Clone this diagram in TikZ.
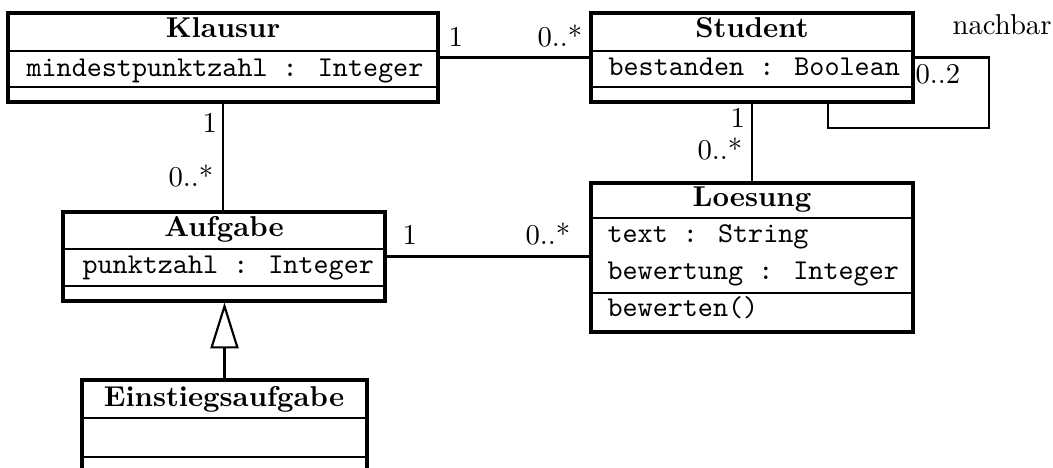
\documentclass[tikz,border=0pt]{standalone}
\usetikzlibrary{arrows.meta,fit}
\begin{document}
\begin{tikzpicture}[x=0.3484pt,y=-0.3484pt,
  classbox/.style={draw, line width=1.1pt, inner sep=0pt},
  sepline/.style={line width=0.85pt},
  assoc/.style={line width=0.75pt},
  mult/.style={inner sep=0pt, anchor=base west},
  cname/.style={inner sep=0pt, anchor=base, font=\bfseries},
  attr/.style={inner sep=0pt, anchor=base west, font=\ttfamily},
]
\useasboundingbox (0,0) rectangle (1053,468);
\clip (0,0) rectangle (1053,468);

% class Klausur
\coordinate (k1) at (8,13); \coordinate (k2) at (438,102);
\node[classbox, fit=(k1)(k2)] (klausur) {};
\draw[sepline] (8,51) -- (438,51) (8,87) -- (438,87);
\node[cname] (klausur-name) at (223,38) {Klausur};
\node[attr] (klausur-a1) at (26,77) {mindestpunktzahl : Integer};

% class Student
\coordinate (s1) at (591,13); \coordinate (s2) at (913,102);
\node[classbox, fit=(s1)(s2)] (student) {};
\draw[sepline] (591,51) -- (913,51) (591,87) -- (913,87);
\node[cname] (student-name) at (752,38) {Student};
\node[attr] (student-a1) at (608,76) {bestanden : Boolean};

% class Loesung
\coordinate (l1) at (591,183); \coordinate (l2) at (913,332);
\node[classbox, fit=(l1)(l2)] (loesung) {};
\draw[sepline] (591,218) -- (913,218) (591,293) -- (913,293);
\node[cname] (loesung-name) at (752,207) {Loesung};
\node[attr] (loesung-a1) at (607,243) {text : String};
\node[attr] (loesung-a2) at (607,280) {bewertung : Integer};
\node[attr] (loesung-o1) at (607,317) {bewerten()};

% class Aufgabe
\coordinate (a1) at (63,212); \coordinate (a2) at (385,301);
\node[classbox, fit=(a1)(a2)] (aufgabe) {};
\draw[sepline] (63,249) -- (385,249) (63,286) -- (385,286);
\node[cname] (aufgabe-name) at (224,237) {Aufgabe};
\node[attr] (aufgabe-a1) at (82,274) {punktzahl : Integer};

% class Einstiegsaufgabe
\coordinate (e1) at (82,380); \coordinate (e2) at (367,495);
\node[classbox, fit=(e1)(e2)] (einstieg) {};
\draw[sepline] (82,418) -- (367,418) (82,457) -- (367,457);
\node[cname] (einstieg-name) at (224,407) {Einstiegsaufgabe};

% associations
\draw[assoc] (klausur.east) -- (student.west);
\draw[assoc] (klausur.south) -- (klausur.south |- aufgabe.north);
\draw[assoc] (student.south) -- (student.south |- loesung.north);
\draw[assoc] (aufgabe.east) -- (aufgabe.east -| loesung.west);

% reflexive association on Student
\coordinate (loop-a) at (989,128);
\coordinate (loop-b) at (828,128);
\draw[assoc] (student.east) -| (loop-a) -- (loop-b) -- (loop-b |- student.south);

% generalization
\draw[assoc, -{Triangle[open, length=16pt, width=9.8pt, line width=0.75pt]}]
  (einstieg.north) -- (einstieg.north |- aufgabe.south);

% multiplicities and role name
\node[mult] (m-ks-1) at (448,47) {1};
\node[mult] (m-ks-2) at (537,47) {0..*};
\node[mult] (role-nb) at (952,35) {nachbar};
\node[mult] (m-ss) at (915,84) {0..2};
\node[mult] (m-ka-1) at (202,133) {1};
\node[mult] (m-ka-2) at (168,187) {0..*};
\node[mult] (m-sl-1) at (730,128) {1};
\node[mult] (m-sl-2) at (697,160) {0..*};
\node[mult] (m-al-1) at (402,245) {1};
\node[mult] (m-al-2) at (525,245) {0..*};
\end{tikzpicture}
\end{document}
